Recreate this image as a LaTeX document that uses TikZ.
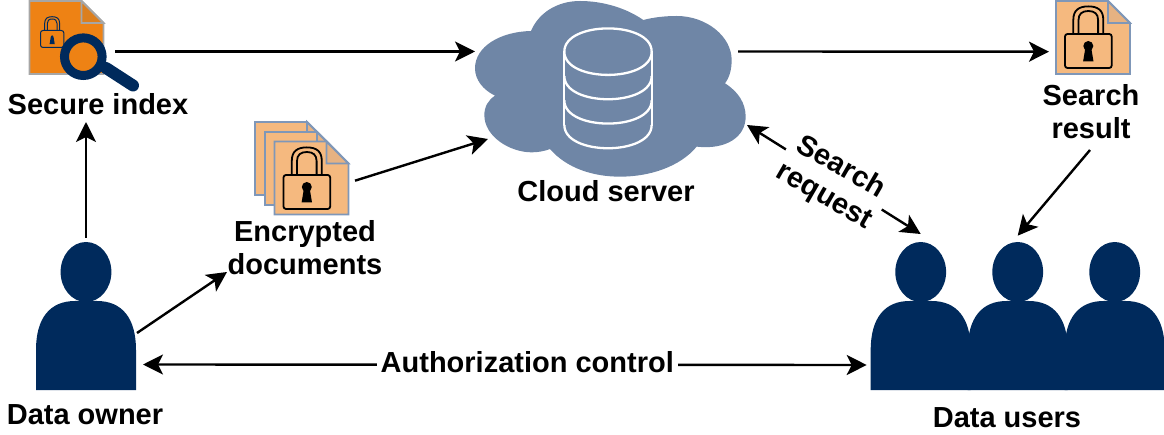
\documentclass[tikz,border=0pt]{standalone}
\usepackage{fontspec}
\setmainfont{Liberation Sans}
\usetikzlibrary{arrows.meta}
\definecolor{navy}{HTML}{002A5C}
\definecolor{cloudc}{HTML}{6F86A6}
\definecolor{orangec}{HTML}{EE8214}
\definecolor{orangefold}{HTML}{DC7F1E}
\definecolor{peach}{HTML}{F5B97F}
\definecolor{peachfold}{HTML}{E6B282}
\definecolor{pageline}{HTML}{7F97B8}
\definecolor{greyline}{HTML}{A6A6A6}
\newcommand{\LockGlyph}[5]{%
  \begin{scope}[shift={(#1,#2)},scale=#3,draw=#4,line width=#5]
    \draw[rounded corners=2.5pt] (0,0) rectangle (46.7,34);
    \draw (8.3,0) -- (8.3,-14) .. controls (8.3,-24) and (14,-27.6) .. (23.3,-27.6)
          .. controls (32.6,-27.6) and (38.3,-24) .. (38.3,-14) -- (38.3,0);
    \draw (13.5,0) -- (13.5,-14) .. controls (13.5,-20) and (17,-23) .. (23.3,-23)
          .. controls (29.6,-23) and (33.1,-20) .. (33.1,-14) -- (33.1,0);
    \fill[#4] (23.3,12) circle[radius=5pt*#3];
    \fill[#4] (20.5,13) -- (26.1,13) -- (28.5,27.5) -- (18.1,27.5) -- cycle;
  \end{scope}}
\newcommand{\PageGlyph}[5]{%
  \begin{scope}[shift={(#1,#2)}]
    \draw[draw=#5,fill=#3,line width=1.8pt,line join=miter] (0,0) -- (52,0) -- (74,22) -- (74,73) -- (0,73) -- cycle;
    \draw[draw=#5,fill=#4,line width=1.8pt,line join=miter] (52,0) -- (74,22) -- (52,22) -- cycle;
  \end{scope}}
\newcommand{\PersonGlyph}[1]{%
  \begin{scope}[shift={(#1,242)}]
    \fill[navy] (0,30) ellipse[x radius=25.4pt,y radius=30pt];
    \fill[navy] (-50,148) -- (-50,108) .. controls (-50,76) and (-36,59) .. (-11,59) -- (11,59)
      .. controls (36,59) and (50,76) .. (50,108) -- (50,148) -- cycle;
  \end{scope}}
\tikzset{
  box/.style={inner sep=0pt,outer sep=0pt,minimum width=#1},
  lbl/.style={font=\bfseries\fontsize{29}{33}\selectfont,align=center,inner sep=0pt,outer sep=0pt},
  conn/.style={line width=2.4pt,-{Stealth[length=20pt,width=20pt,inset=5pt]}},
  dconn/.style={line width=2.4pt,{Stealth[length=20pt,width=20pt,inset=5pt]}-{Stealth[length=20pt,width=20pt,inset=5pt]}},
  cut/.style={lbl,fill=white,inner xsep=4pt,inner ysep=1pt}
}
\begin{document}
\begin{tikzpicture}[x=1pt,y=-1pt]
\useasboundingbox (0,0) rectangle (1164,435);

% cloud
\begin{scope}[shift={(470,0)},scale=1/3]
  \fill[cloudc] (183,93) .. controls (90,95) and (15,140) .. (15,205)
    .. controls (15,240) and (40,270) .. (75,287)
    .. controls (55,300) and (43,320) .. (43,345)
    .. controls (43,410) and (120,457) .. (185,457)
    .. controls (205,457) and (225,453) .. (240,447)
    .. controls (290,505) and (370,530) .. (450,530)
    .. controls (540,530) and (630,500) .. (680,440)
    .. controls (770,450) and (827,410) .. (827,350)
    .. controls (827,310) and (805,275) .. (765,250)
    .. controls (780,230) and (785,205) .. (785,180)
    .. controls (785,110) and (710,48) .. (620,48)
    .. controls (585,48) and (550,52) .. (520,60)
    .. controls (470,25) and (400,3) .. (330,3)
    .. controls (260,3) and (205,40) .. (183,93) -- cycle;
  \begin{scope}[draw=white,line width=2.3pt]
    \draw (283,155) .. controls (283,62) and (545,62) .. (545,155)
          .. controls (545,248) and (283,248) .. (283,155) -- cycle;
    \draw (283,155) -- (283,375);
    \draw (545,155) -- (545,375);
    \draw (283,228) .. controls (283,321) and (545,321) .. (545,228);
    \draw (283,301) .. controls (283,394) and (545,394) .. (545,301);
    \draw (283,375) .. controls (283,468) and (545,468) .. (545,375);
  \end{scope}
\end{scope}

% secure index icon
\PageGlyph{29.5}{1}{orangec}{orangefold}{greyline}
\LockGlyph{40.5}{30.5}{0.5}{navy}{1pt}
\draw[navy,line width=9pt] (83.3,56.7) circle[radius=18.8pt];
\draw[navy,line width=12pt,line cap=round] (106,68) -- (133,85.5);

% encrypted documents icon
\PageGlyph{255}{122}{peach}{peachfold}{pageline}
\PageGlyph{265}{132}{peach}{peachfold}{pageline}
\PageGlyph{274.5}{141.5}{peach}{peachfold}{pageline}
\LockGlyph{283.5}{175}{1}{black}{1.8pt}

% search result icon
\PageGlyph{1056}{1}{peach}{peachfold}{pageline}
\LockGlyph{1065}{34}{1}{black}{1.8pt}

% people
\PersonGlyph{86}
\PersonGlyph{920.7}
\PersonGlyph{1017.7}
\PersonGlyph{1114.7}

% named frames of the icons
\node[box=111pt,minimum height=91pt] (index) at (84.5,45.5) {};
\node[box=94pt,minimum height=94pt] (docs) at (302,168) {};
\node[box=271pt,minimum height=177pt] (cloud) at (610.5,88.5) {};
\node[box=74pt,minimum height=73pt] (result) at (1093,37.5) {};
\node[box=100pt,minimum height=148pt] (owner) at (86,316) {};
\node[box=100pt,minimum height=148pt] (user1) at (920.7,316) {};
\node[box=100pt,minimum height=148pt] (user2) at (1017.7,316) {};
\node[box=100pt,minimum height=148pt] (user3) at (1114.7,316) {};

% labels
\node[lbl] (indexlbl) at (98,104) {Secure index};
\node[lbl] (docslbl) at (305,247.5) {Encrypted\\documents};
\node[lbl] (cloudlbl) at (606,191) {Cloud server};
\node[lbl] (resultlbl) at (1091,111.5) {Search\\result};
\node[lbl] (ownerlbl) at (85,415) {Data owner};
\node[lbl] (userslbl) at (1007,418) {Data users};

% connectors
\draw[conn] ([xshift=-25pt,yshift=-6pt]index.east) -- ([yshift=37pt]cloud.west);
\draw[conn] ([xshift=6pt,yshift=-12.7pt]docs.east) -- ([xshift=13pt,yshift=-50.5pt]cloud.west);
\draw[conn] ([xshift=-8pt,yshift=37pt]cloud.east) -- ([xshift=-7pt,yshift=-14.2pt]result.west);
\draw[dconn] ([xshift=1pt,yshift=-36.5pt]cloud.east) -- ([yshift=8pt]user1.north)
  node[cut,pos=0.49,rotate=-30,xshift=2pt,yshift=-3pt] (reqlbl) {Search\\request};
\draw[conn] ([xshift=-1pt,yshift=-38.5pt]resultlbl.center) -- ([yshift=6.3pt]user2.north);
\draw[conn] ([yshift=4pt]owner.north) -- ([xshift=-12pt,yshift=-18pt]indexlbl.center);
\draw[conn] ([xshift=1pt,yshift=-17pt]owner.east) -- ([xshift=-78pt,yshift=-24.5pt]docslbl.center);
\draw[dconn] ([xshift=7pt,yshift=-48.5pt]owner.east) -- ([xshift=-4pt,yshift=-49pt]user1.west)
  node[cut,pos=0.531,yshift=3pt] (authlbl) {Authorization control};
\end{tikzpicture}
\end{document}
